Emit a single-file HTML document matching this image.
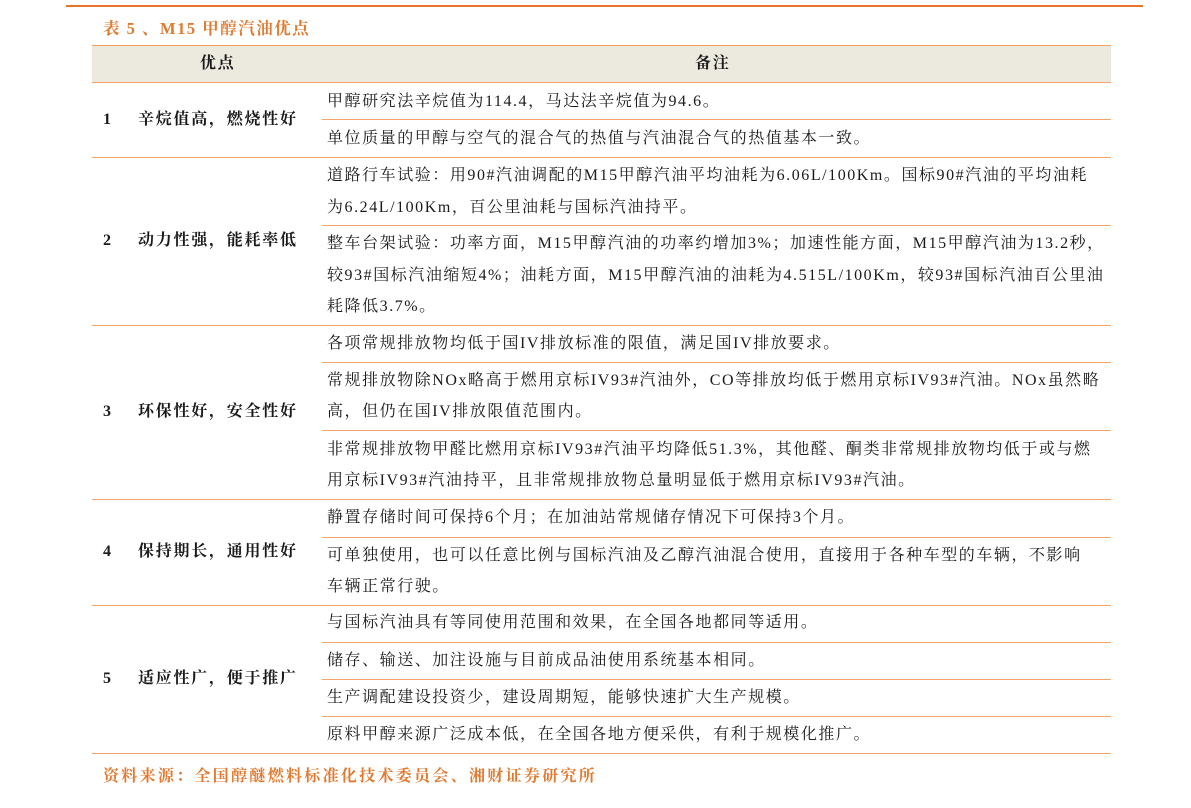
<!DOCTYPE html>
<html><head><meta charset="utf-8"><style>
body{margin:0;width:1191px;height:808px;background:#fff;position:relative;overflow:hidden;font-family:"Liberation Serif","Noto Serif CJK SC",serif;color:#1a1a1a}
.l{position:absolute;height:22px;line-height:22px;font-size:16px;letter-spacing:1.55px;white-space:nowrap}
.h{position:absolute;background:#f4a46a;height:1px}
.b{font-weight:bold;letter-spacing:1.75px}
</style></head><body>
<div style="position:absolute;left:66px;top:5px;width:1077px;height:2px;background:#e8732a"></div>
<div class="l b" style="left:103px;top:18px;color:#e07a30;font-size:16.5px;letter-spacing:1.5px">表 5 、M15 甲醇汽油优点</div>
<div style="position:absolute;left:92px;top:45px;width:1019px;height:37px;background:#ece9df;border-top:1px solid #f0a060"></div>
<div class="l b" style="left:200px;top:53px">优点</div>
<div class="l b" style="left:695px;top:53px">备注</div>
<div class="h" style="left:92px;top:82px;width:1019px"></div>
<div class="h" style="left:322px;top:119px;width:789px"></div>
<div class="h" style="left:92px;top:157px;width:1019px"></div>
<div class="h" style="left:322px;top:225px;width:789px"></div>
<div class="h" style="left:92px;top:325px;width:1019px"></div>
<div class="h" style="left:322px;top:362px;width:789px"></div>
<div class="h" style="left:322px;top:430px;width:789px"></div>
<div class="h" style="left:92px;top:499px;width:1019px"></div>
<div class="h" style="left:322px;top:537px;width:789px"></div>
<div class="h" style="left:92px;top:605px;width:1019px"></div>
<div class="h" style="left:322px;top:642px;width:789px"></div>
<div class="h" style="left:322px;top:679px;width:789px"></div>
<div class="h" style="left:322px;top:716px;width:789px"></div>
<div class="h" style="left:92px;top:753px;width:1019px"></div>

<div class="l b" style="left:103px;top:109px">1</div><div class="l b" style="left:138px;top:109px">辛烷值高，燃烧性好</div>
<div class="l b" style="left:103px;top:230px">2</div><div class="l b" style="left:138px;top:230px">动力性强，能耗率低</div>
<div class="l b" style="left:103px;top:401px">3</div><div class="l b" style="left:138px;top:401px">环保性好，安全性好</div>
<div class="l b" style="left:103px;top:541px">4</div><div class="l b" style="left:138px;top:541px">保持期长，通用性好</div>
<div class="l b" style="left:103px;top:668px">5</div><div class="l b" style="left:138px;top:668px">适应性广，便于推广</div>

<div class="l" style="left:327px;top:91px">甲醇研究法辛烷值为114.4，马达法辛烷值为94.6。</div>
<div class="l" style="left:327px;top:128px">单位质量的甲醇与空气的混合气的热值与汽油混合气的热值基本一致。</div>
<div class="l" style="left:327px;top:165px">道路行车试验：用90#汽油调配的M15甲醇汽油平均油耗为6.06L/100Km。国标90#汽油的平均油耗</div>
<div class="l" style="left:327px;top:197px">为6.24L/100Km，百公里油耗与国标汽油持平。</div>
<div class="l" style="left:327px;top:233px">整车台架试验：功率方面，M15甲醇汽油的功率约增加3%；加速性能方面，M15甲醇汽油为13.2秒，</div>
<div class="l" style="left:327px;top:265px">较93#国标汽油缩短4%；油耗方面，M15甲醇汽油的油耗为4.515L/100Km，较93#国标汽油百公里油</div>
<div class="l" style="left:327px;top:296px">耗降低3.7%。</div>
<div class="l" style="left:327px;top:333px">各项常规排放物均低于国IV排放标准的限值，满足国IV排放要求。</div>
<div class="l" style="left:327px;top:370px">常规排放物除NOx略高于燃用京标IV93#汽油外，CO等排放均低于燃用京标IV93#汽油。NOx虽然略</div>
<div class="l" style="left:327px;top:401px">高，但仍在国IV排放限值范围内。</div>
<div class="l" style="left:327px;top:439px">非常规排放物甲醛比燃用京标IV93#汽油平均降低51.3%，其他醛、酮类非常规排放物均低于或与燃</div>
<div class="l" style="left:327px;top:470px">用京标IV93#汽油持平，且非常规排放物总量明显低于燃用京标IV93#汽油。</div>
<div class="l" style="left:327px;top:507px">静置存储时间可保持6个月；在加油站常规储存情况下可保持3个月。</div>
<div class="l" style="left:327px;top:545px">可单独使用，也可以任意比例与国标汽油及乙醇汽油混合使用，直接用于各种车型的车辆，不影响</div>
<div class="l" style="left:327px;top:576px">车辆正常行驶。</div>
<div class="l" style="left:327px;top:612px">与国标汽油具有等同使用范围和效果，在全国各地都同等适用。</div>
<div class="l" style="left:327px;top:650px">储存、输送、加注设施与目前成品油使用系统基本相同。</div>
<div class="l" style="left:327px;top:687px">生产调配建设投资少，建设周期短，能够快速扩大生产规模。</div>
<div class="l" style="left:327px;top:724px">原料甲醇来源广泛成本低，在全国各地方便采供，有利于规模化推广。</div>

<div class="l b" style="left:103px;top:766px;color:#e07a30;font-size:16px;letter-spacing:2.3px">资料来源：全国醇醚燃料标准化技术委员会、湘财证券研究所</div>
</body></html>
